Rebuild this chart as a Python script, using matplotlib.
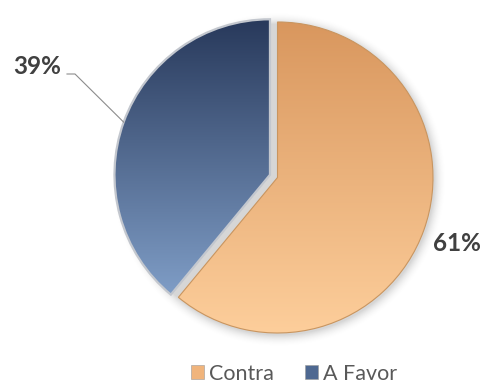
import numpy as np
import matplotlib
matplotlib.use("Agg")
import matplotlib.pyplot as plt
from matplotlib.colors import LinearSegmentedColormap
from matplotlib.patches import Patch

# Survey result
categories = ["Contra", "A Favor"]
shares = [61, 39]

# Gradient end colours per slice (top, bottom)
grad_top = ["#D9975E", "#28395B"]
grad_bottom = ["#FDCE9B", "#8AAAD4"]
legend_colors = ["#F0B47C", "#4E6891"]
edge_colors = ["#C9955F", "#C3C7CE"]
edge_widths = [0.8, 1.6]

W, H = 484, 385
fig = plt.figure(figsize=(W / 100, H / 100), dpi=100)
ax = fig.add_axes([0, 0, 1, 1])

cx, cy = 277.5, 207.5
radius = 155.5

# soft drop shadow under the pie
yy, xx = np.mgrid[0:H, 0:W] + 0.5
d = np.hypot(xx - (cx + 1.5), yy - (cy - 2.0))
fall = np.clip(1 - (d - radius) / 12.0, 0, 1) ** 2
shadow = np.zeros((H, W, 4))
shadow[..., :3] = 0.55
shadow[..., 3] = 0.35 * fall
ax.imshow(shadow, extent=[0, W, 0, H], origin="lower", zorder=0,
          interpolation="bilinear")

wedges, _ = ax.pie(shares, startangle=90, counterclock=False,
                   explode=[0, 8], center=(cx, cy), radius=radius,
                   wedgeprops=dict(linewidth=0))

grad = np.linspace(0, 1, 256).reshape(-1, 1)
for i, w in enumerate(wedges):
    cmap = LinearSegmentedColormap.from_list(f"g{i}", [grad_bottom[i], grad_top[i]])
    wx, wy = w.center
    im = ax.imshow(grad, extent=[wx - radius, wx + radius, wy - radius, wy + radius],
                   origin="lower", cmap=cmap, aspect="auto", zorder=1,
                   interpolation="bicubic")
    im.set_clip_path(w)
    w.set_facecolor("none")
    w.set_edgecolor(edge_colors[i])
    w.set_linewidth(edge_widths[i])
    w.set_zorder(2)

label_font = dict(family=["Lato", "DejaVu Sans"], weight="bold", size=17.5,
                  color="#404040")

# Contra label on the right
ax.text(457, 141.5, f"{shares[0]}%", ha="center", va="center", **label_font)

# A Favor label with leader line to the slice edge
wb = wedges[1]
tm = np.deg2rad(0.5 * (wb.theta1 + wb.theta2))
ex = wb.center[0] + wb.r * np.cos(tm)
ey = wb.center[1] + wb.r * np.sin(tm)
ax.text(37, 319, f"{shares[1]}%", ha="center", va="center", **label_font)
ax.plot([67, 75, ex], [311, 311, ey], color="#8C8C8C", lw=0.8, zorder=3)

handles = [Patch(facecolor=c, edgecolor="#9A9A9A", linewidth=0.4) for c in legend_colors]
fig.legend(handles, categories, loc="center", bbox_to_anchor=(294 / W, 11.5 / H),
           ncol=2, frameon=False, borderpad=0,
           prop=dict(family=["Lato", "DejaVu Sans"], size=15.5),
           labelcolor="#595959", handlelength=0.6, handleheight=0.6,
           handletextpad=0.25, columnspacing=1.45)

ax.set_xlim(0, W)
ax.set_ylim(0, H)
ax.set_aspect("auto")
ax.axis("off")

fig.savefig("out.png", dpi=100, facecolor="white")
